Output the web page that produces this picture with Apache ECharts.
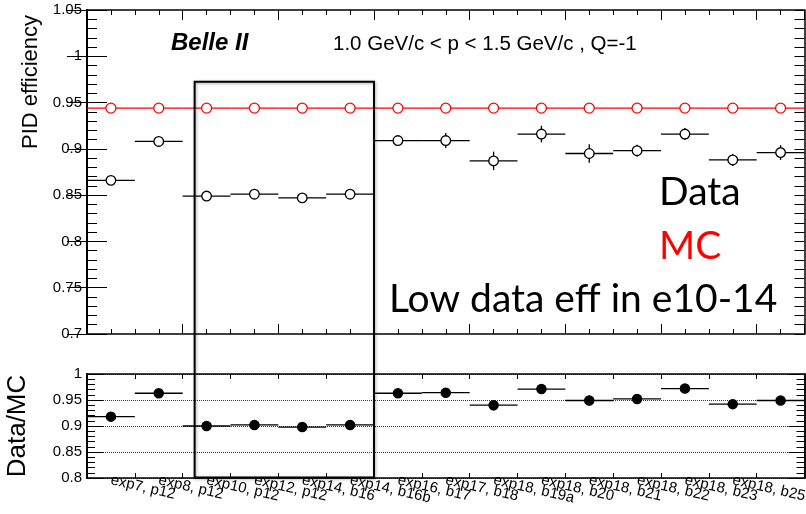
<!DOCTYPE html>
<html><head><meta charset="utf-8">
<script src="https://cdn.jsdelivr.net/npm/echarts@6/dist/echarts.min.js"></script>
<style>html,body{margin:0;padding:0;background:#fff}#c{width:806px;height:514px}</style>
</head><body><div id="c"></div>
<script>
// ---- data ----
const categories = ['exp7, p12','exp8, p12','exp10, p12','exp12, p12','exp14, b16','exp14, b16b','exp16, b17','exp17, b18','exp18, b19a','exp18, b20','exp18, b21','exp18, b22','exp18, b23','exp18, b25',''];
const dataEff = [0.866,0.908,0.849,0.851,0.847,0.851,0.909,0.909,0.887,0.916,0.895,0.898,0.916,0.888,0.896];
const dataErr = [0.003,0.003,0.003,0.003,0.003,0.003,0.004,0.008,0.010,0.009,0.010,0.0065,0.0065,0.0065,0.008];
const mcEff  = [0.944,0.944,0.944,0.944,0.944,0.944,0.944,0.944,0.944,0.944,0.944,0.944,0.944,0.944,0.944];
const mcErr  = [0,0,0,0,0,0,0,0,0,0,0,0,0,0,0];
const ratio    = [0.918,0.963,0.900,0.902,0.898,0.902,0.963,0.964,0.940,0.971,0.949,0.952,0.972,0.942,0.949];
const ratioErr = [0.003,0.003,0.003,0.003,0.003,0.003,0.004,0.008,0.010,0.009,0.010,0.007,0.007,0.007,0.008];
// highlighted region (bins, efficiency at top, ratio at bottom)
const boxBins = [2.25, 6.0];
const boxTopEff = 0.9725;
const boxBottomRatio = 0.801;

const FONT = 'Liberation Sans, Arial, Helvetica, sans-serif';
const BIG = 'Lato, "Open Sans", sans-serif';

function triples(vals, errs){ return vals.map((v,i)=>[i, v, errs[i]]); }

function renderValueAxis(radius, fill, stroke){
  return function(params, api){
    const i = api.value(0), v = api.value(1), e = api.value(2);
    const c = api.coord([i+0.5, v]);
    const l = api.coord([i, v]), r = api.coord([i+1, v]);
    const hi = api.coord([i+0.5, v+e]), lo = api.coord([i+0.5, v-e]);
    return {type:'group', children:[
      {type:'line', shape:{x1:l[0], y1:c[1], x2:r[0], y2:c[1]}, style:{stroke:stroke, lineWidth:1.3}},
      {type:'line', shape:{x1:c[0], y1:hi[1], x2:c[0], y2:lo[1]}, style:{stroke:stroke, lineWidth:1.3}},
      {type:'circle', shape:{cx:c[0], cy:c[1], r:radius}, style:{fill:fill, stroke:stroke, lineWidth:1.3}}
    ]};
  };
}
function renderCategoryAxis(radius, fill, stroke){
  return function(params, api){
    const i = api.value(0), v = api.value(1), e = api.value(2);
    const c = api.coord([i, v]);
    const half = api.size([1, 0])[0] / 2;
    const hi = api.coord([i, v+e]), lo = api.coord([i, v-e]);
    return {type:'group', children:[
      {type:'line', shape:{x1:c[0]-half, y1:c[1], x2:c[0]+half, y2:c[1]}, style:{stroke:stroke, lineWidth:1.3}},
      {type:'line', shape:{x1:c[0], y1:hi[1], x2:c[0], y2:lo[1]}, style:{stroke:stroke, lineWidth:1.3}},
      {type:'circle', shape:{cx:c[0], cy:c[1], r:radius}, style:{fill:fill, stroke:stroke, lineWidth:1.3}}
    ]};
  };
}

const axisLine = {show:true, lineStyle:{color:'#000', width:1.5}};
function xTickAxis(grid, pos, interval, len, showLine){
  return {gridIndex:grid, type:'value', position:pos, min:0, max:15, interval:interval,
    axisLine: showLine ? axisLine : {show:false},
    axisTick:{show:true, inside:true, length:len, lineStyle:{color:'#000', width:1}},
    axisLabel:{show:false}, splitLine:{show:false}};
}
// tick-only value axis (no labels)
function yTickAxis(grid, pos, min, max, interval, len){
  return {gridIndex:grid, type:'value', position:pos, min:min, max:max, interval:interval,
    axisLine:axisLine,
    axisTick:{show:true, inside:true, length:len, lineStyle:{color:'#000', width:1}},
    minorTick:{show:false}, axisLabel:{show:false}, splitLine:{show:false}};
}
// label axis (no ticks)
function yLabelAxis(grid, min, max, split){
  return {gridIndex:grid, type:'value', position:'left', min:min, max:max, interval:0.05,
    axisLine:axisLine, axisTick:{show:false}, minorTick:{show:false},
    axisLabel:{show:true, fontFamily:FONT, fontSize:15, color:'#000', margin:5},
    splitLine: split ? {show:true, lineStyle:{color:'#333', type:'dotted', width:1}} : {show:false}};
}

const chart = echarts.init(document.getElementById('c'), null, {renderer:'canvas'});
chart.setOption({
  animation:false,
  backgroundColor:'#fff',
  grid:[
    {left:87, right:1.5, top:10, height:324, outerBoundsMode:'none'},
    {left:87, right:1.5, top:374, height:104, outerBoundsMode:'none'}
  ],
  xAxis:[
    xTickAxis(0,'bottom',2,10,true),
    xTickAxis(0,'bottom',0.5,5,false),
    xTickAxis(0,'top',2,10,true),
    xTickAxis(0,'top',0.5,5,false),
    {gridIndex:1, type:'category', position:'bottom', data:categories, boundaryGap:true,
      axisLine:axisLine,
      axisTick:{show:true, inside:true, length:5, interval:0, lineStyle:{color:'#000'}},
      axisLabel:{show:true, interval:0, rotate:-13, fontFamily:FONT, fontSize:15, color:'#000', margin:2},
      splitLine:{show:false}},
    {gridIndex:1, type:'category', position:'top', data:categories, boundaryGap:true,
      axisLine:axisLine,
      axisTick:{show:true, inside:true, length:5, interval:0, lineStyle:{color:'#000'}},
      axisLabel:{show:false}, splitLine:{show:false}}
  ],
  yAxis:[
    yLabelAxis(0,0.7,1.05,false),
    yTickAxis(0,'left',0.7,1.05,0.05,20),
    yTickAxis(0,'left',0.7,1.05,0.01,10),
    yTickAxis(0,'right',0.7,1.05,0.05,20),
    yTickAxis(0,'right',0.7,1.05,0.01,10),
    yLabelAxis(1,0.8,1.0,true),
    yTickAxis(1,'left',0.8,1.0,0.05,16),
    yTickAxis(1,'left',0.8,1.0,0.01,8),
    yTickAxis(1,'right',0.8,1.0,0.05,16),
    yTickAxis(1,'right',0.8,1.0,0.01,8)
  ],
  series:[
    {name:'MC', type:'custom', xAxisIndex:0, yAxisIndex:0, renderItem:renderValueAxis(5,'#fff','#ff0000'),
      data:triples(mcEff, mcErr), z:3},
    {name:'Data', type:'custom', xAxisIndex:0, yAxisIndex:0, renderItem:renderValueAxis(4.8,'#fff','#000'),
      data:triples(dataEff, dataErr), z:4},
    {name:'Data/MC', type:'custom', xAxisIndex:4, yAxisIndex:5, renderItem:renderCategoryAxis(4.6,'#000','#000'),
      data:triples(ratio, ratioErr), z:4}
  ]
});

const xl = chart.convertToPixel({xAxisIndex:0}, boxBins[0]);
const xr = chart.convertToPixel({xAxisIndex:0}, boxBins[1]);
const yt = chart.convertToPixel({yAxisIndex:0}, boxTopEff);
const yb = chart.convertToPixel({yAxisIndex:5}, boxBottomRatio);

chart.setOption({graphic:[
  {type:'rect', shape:{x:xl, y:yt, width:xr-xl, height:yb-yt}, z:100,
    style:{fill:'none', stroke:'#000', lineWidth:2, shadowBlur:3, shadowColor:'rgba(0,0,0,0.35)', shadowOffsetX:1, shadowOffsetY:1}},
  {type:'text', x:171, y:43, z:100, style:{text:'Belle II', font:'italic bold 24px '+FONT, fill:'#000', verticalAlign:'middle', align:'left'}},
  {type:'text', x:333, y:44, z:100, style:{text:'1.0 GeV/c < p < 1.5 GeV/c , Q=-1', font:'20.5px '+FONT, fill:'#000', verticalAlign:'middle', align:'left'}},
  {type:'text', x:659, y:192, z:100, style:{text:'Data', font:'39px '+BIG, fill:'#000', verticalAlign:'middle', align:'left'}},
  {type:'text', x:659, y:246, z:100, style:{text:'MC', font:'39px '+BIG, fill:'#ff0000', verticalAlign:'middle', align:'left'}},
  {type:'text', x:389, y:299, z:100, style:{text:'Low data eff in e10-14', font:'39px '+BIG, fill:'#000', verticalAlign:'middle', align:'left'}},
  {type:'text', x:31, y:82, rotation:Math.PI/2, z:100, style:{text:'PID efficiency', font:'22px '+FONT, fill:'#000', verticalAlign:'middle', align:'center'}},
  {type:'text', x:18, y:426, rotation:Math.PI/2, z:100, style:{text:'Data/MC', font:'26px '+FONT, fill:'#000', verticalAlign:'middle', align:'center'}}
]});
</script></body></html>
